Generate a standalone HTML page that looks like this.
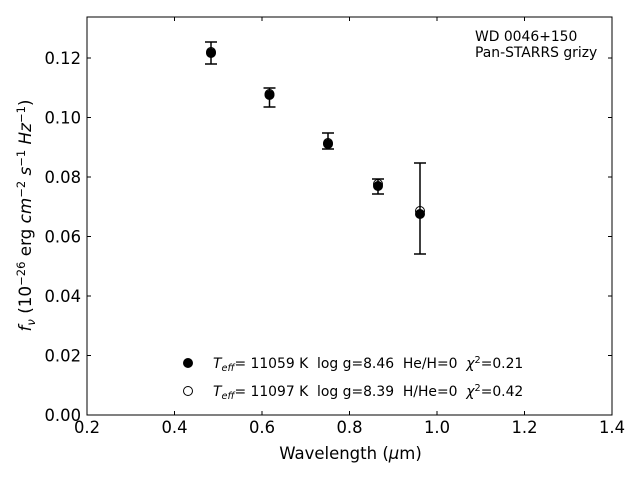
<!DOCTYPE html>
<html><head><style>body{margin:0;background:#fff}svg{display:block}text{font-family:"DejaVu Sans","Liberation Sans",sans-serif;fill:#000;white-space:pre}</style></head><body>
<svg width="640" height="480" viewBox="0 0 640 480" xmlns="http://www.w3.org/2000/svg">
<rect x="87" y="17" width="525" height="398" fill="none" stroke="#000" stroke-width="1"/>
<g stroke="#000" stroke-width="1">
<line x1="87" y1="415" x2="87" y2="411"/><line x1="174.5" y1="415" x2="174.5" y2="411"/><line x1="262" y1="415" x2="262" y2="411"/><line x1="349.5" y1="415" x2="349.5" y2="411"/><line x1="437" y1="415" x2="437" y2="411"/><line x1="524.5" y1="415" x2="524.5" y2="411"/><line x1="612" y1="415" x2="612" y2="411"/>
<line x1="87" y1="17" x2="87" y2="21"/><line x1="174.5" y1="17" x2="174.5" y2="21"/><line x1="262" y1="17" x2="262" y2="21"/><line x1="349.5" y1="17" x2="349.5" y2="21"/><line x1="437" y1="17" x2="437" y2="21"/><line x1="524.5" y1="17" x2="524.5" y2="21"/><line x1="612" y1="17" x2="612" y2="21"/>
<line x1="87" y1="415" x2="91" y2="415"/><line x1="87" y1="355.5" x2="91" y2="355.5"/><line x1="87" y1="296" x2="91" y2="296"/><line x1="87" y1="236.5" x2="91" y2="236.5"/><line x1="87" y1="177" x2="91" y2="177"/><line x1="87" y1="117.5" x2="91" y2="117.5"/><line x1="87" y1="58" x2="91" y2="58"/>
<line x1="612" y1="415" x2="608" y2="415"/><line x1="612" y1="355.5" x2="608" y2="355.5"/><line x1="612" y1="296" x2="608" y2="296"/><line x1="612" y1="236.5" x2="608" y2="236.5"/><line x1="612" y1="177" x2="608" y2="177"/><line x1="612" y1="117.5" x2="608" y2="117.5"/><line x1="612" y1="58" x2="608" y2="58"/>
</g>
<g font-size="16.4" text-anchor="middle">
<text x="87" y="433">0.2</text><text x="174.5" y="433">0.4</text><text x="262" y="433">0.6</text><text x="349.5" y="433">0.8</text><text x="437" y="433">1.0</text><text x="524.5" y="433">1.2</text><text x="612" y="433">1.4</text>
</g>
<g font-size="16.4" text-anchor="end">
<text x="81" y="421">0.00</text><text x="81" y="361.5">0.02</text><text x="81" y="302">0.04</text><text x="81" y="242.5">0.06</text><text x="81" y="183">0.08</text><text x="81" y="123.5">0.10</text><text x="81" y="64">0.12</text>
</g>
<text x="350.5" y="459" font-size="16.5" text-anchor="middle">Wavelength (<tspan font-style="italic">μ</tspan>m)</text>
<text transform="translate(31,215.5) rotate(-90)" font-size="16.8" text-anchor="middle"><tspan font-style="italic">f</tspan><tspan font-style="italic" font-size="11.5" dy="4">ν</tspan><tspan dy="-4"> (10</tspan><tspan font-size="11.5" dy="-6">−26</tspan><tspan dy="6"> erg </tspan><tspan font-style="italic">cm</tspan><tspan font-size="11.5" dy="-6">−2</tspan><tspan dy="6" font-style="italic"> s</tspan><tspan font-size="11.5" dy="-6">−1</tspan><tspan dy="6" font-style="italic"> Hz</tspan><tspan font-size="11.5" dy="-6">−1</tspan><tspan dy="6">)</tspan></text>
<text x="475" y="41" font-size="13.9">WD 0046+150</text>
<text x="475" y="57" font-size="13.9">Pan-STARRS grizy</text>
<g stroke="#000" stroke-width="1.5">
<line x1="211" y1="42" x2="211" y2="64"/><line x1="205" y1="42" x2="217" y2="42"/><line x1="205" y1="64" x2="217" y2="64"/>
<line x1="269.5" y1="88" x2="269.5" y2="107"/><line x1="263.5" y1="88" x2="275.5" y2="88"/><line x1="263.5" y1="107" x2="275.5" y2="107"/>
<line x1="328" y1="133" x2="328" y2="149"/><line x1="322" y1="133" x2="334" y2="133"/><line x1="322" y1="149" x2="334" y2="149"/>
<line x1="378" y1="179" x2="378" y2="194"/><line x1="372" y1="179" x2="384" y2="179"/><line x1="372" y1="194" x2="384" y2="194"/>
<line x1="420" y1="163" x2="420" y2="254"/><line x1="414" y1="163" x2="426" y2="163"/><line x1="414" y1="254" x2="426" y2="254"/>
</g>
<g fill="#000" stroke="#000" stroke-width="1">
<circle cx="211" cy="53" r="4.5"/><circle cx="269.5" cy="95" r="4.5"/><circle cx="328" cy="144" r="4.5"/><circle cx="378" cy="186" r="4.5"/><circle cx="420" cy="214" r="4.5"/>
</g>
<g fill="none" stroke="#000" stroke-width="1">
<circle cx="211" cy="52" r="4.5"/><circle cx="269.5" cy="94" r="4.5"/><circle cx="328" cy="143" r="4.5"/><circle cx="378" cy="184" r="4.5"/><circle cx="420" cy="211" r="4.5"/>
</g>
<circle cx="188" cy="363" r="4.5" fill="#000" stroke="#000"/>
<circle cx="188" cy="391" r="4.5" fill="#fff" stroke="#000"/>
<text x="213" y="368" font-size="13.9"><tspan font-style="italic">T</tspan><tspan font-style="italic" font-size="9.7" dy="3">eff</tspan><tspan dy="-3">= 11059 K  log g=8.46  He/H=0  </tspan><tspan font-style="italic">χ</tspan><tspan font-size="9.7" dy="-5">2</tspan><tspan dy="5">=0.21</tspan></text>
<text x="213" y="396" font-size="13.9"><tspan font-style="italic">T</tspan><tspan font-style="italic" font-size="9.7" dy="3">eff</tspan><tspan dy="-3">= 11097 K  log g=8.39  H/He=0  </tspan><tspan font-style="italic">χ</tspan><tspan font-size="9.7" dy="-5">2</tspan><tspan dy="5">=0.42</tspan></text>
</svg>
</body></html>
